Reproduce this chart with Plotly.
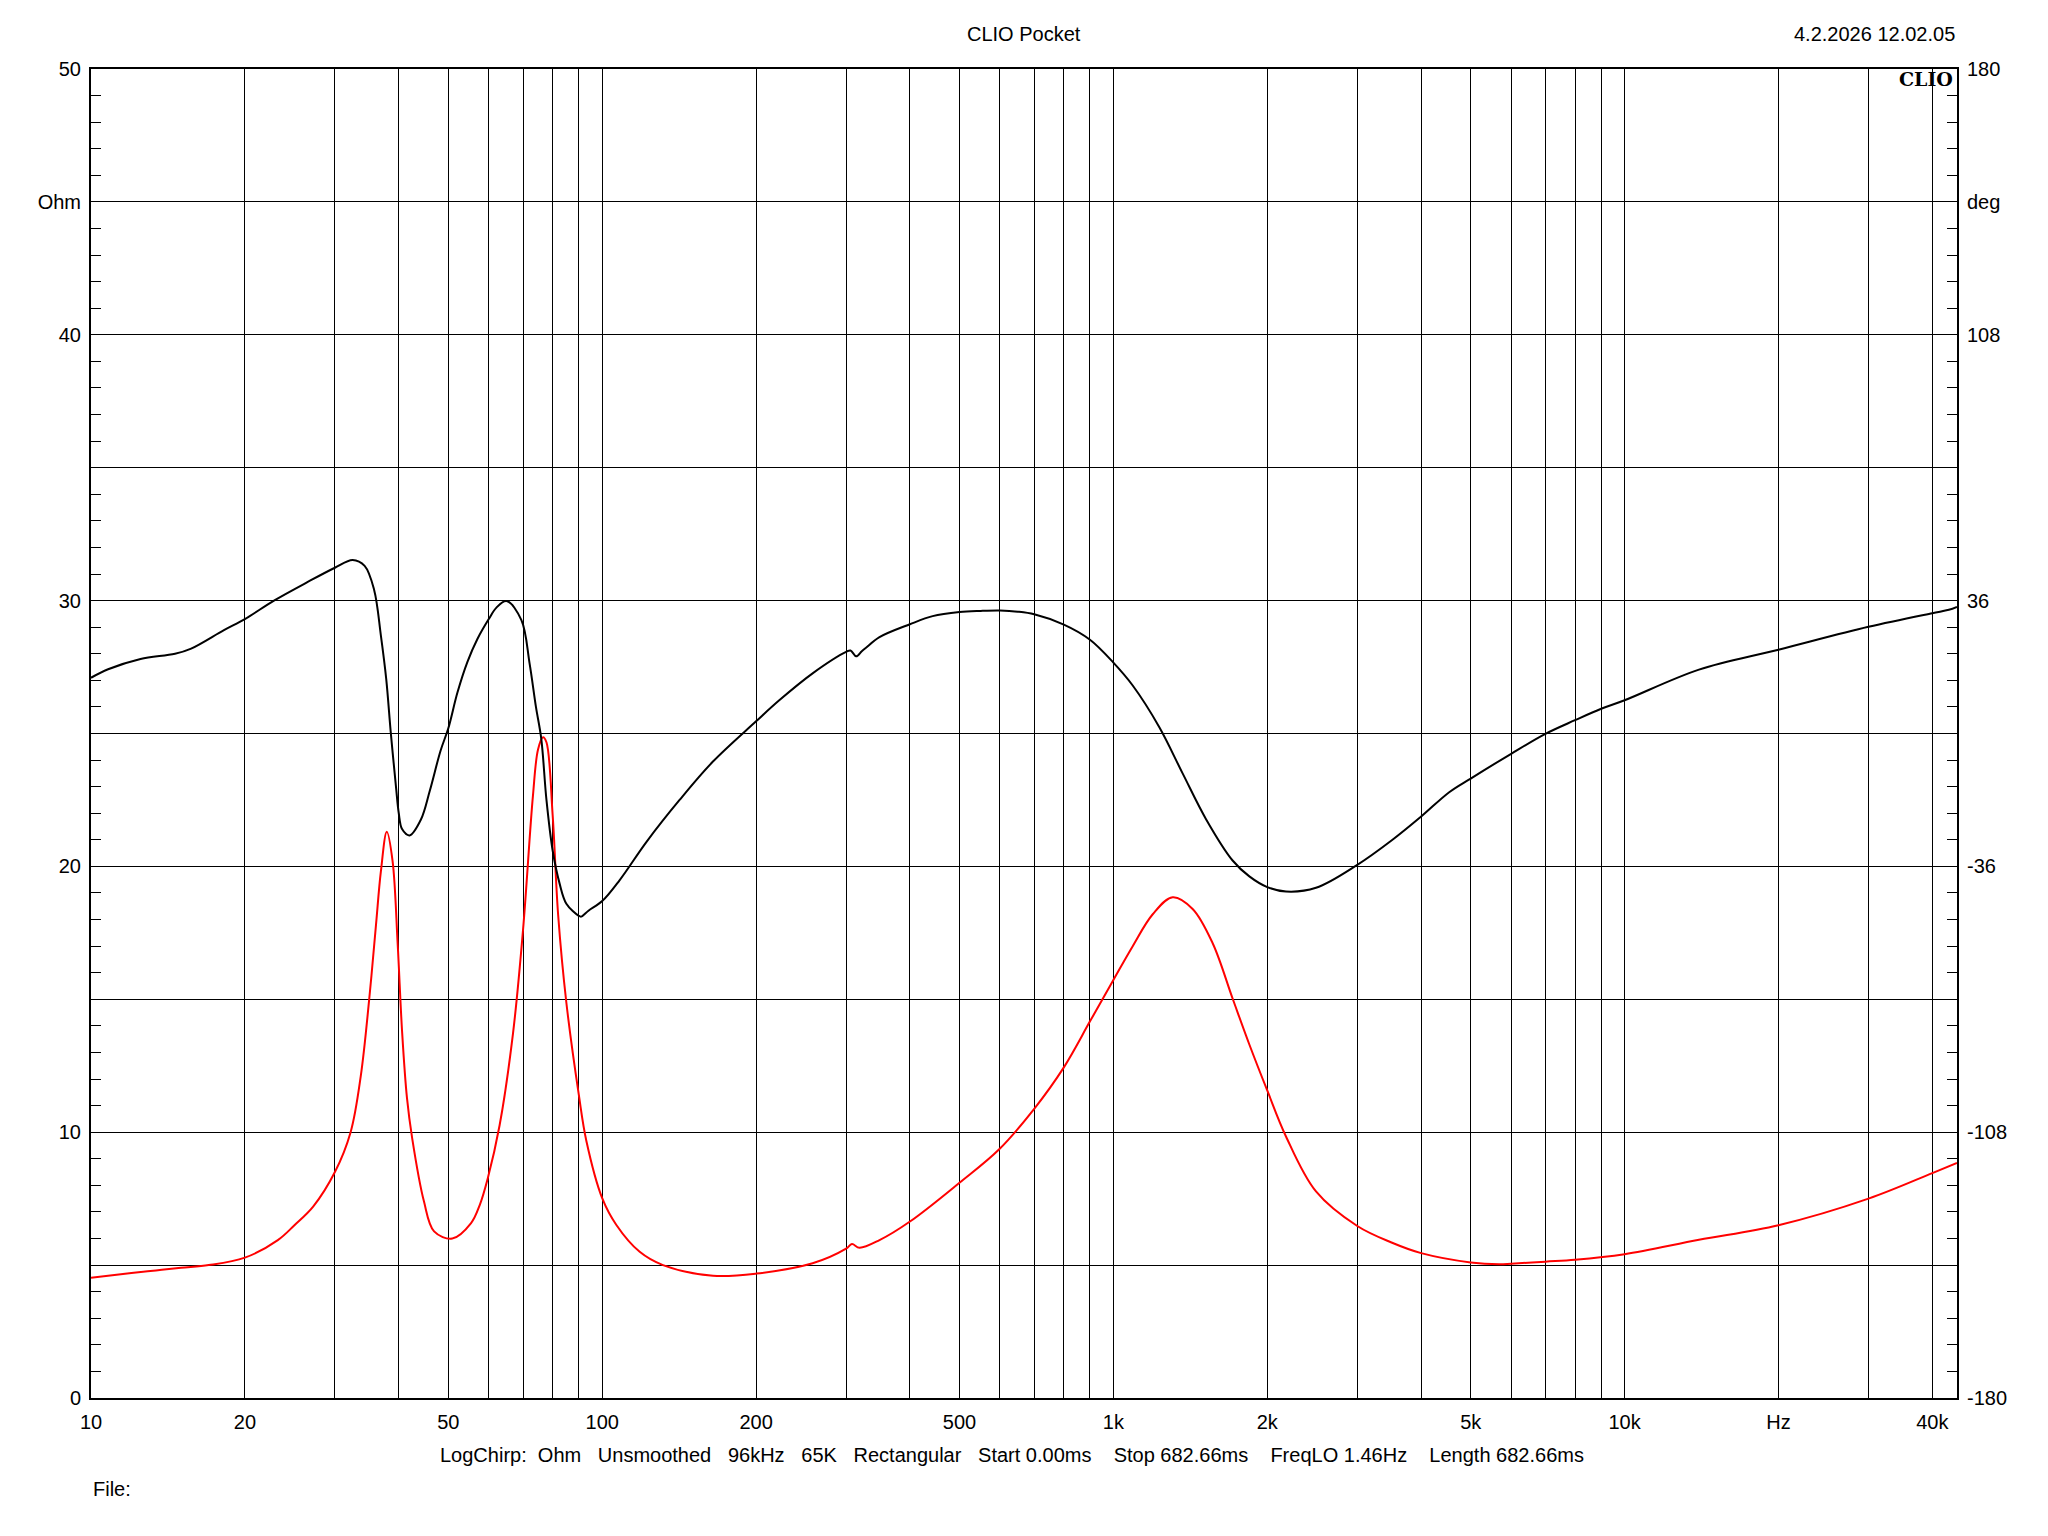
import math
import plotly.graph_objects as go

# ---------------- data ----------------
# Phase (black, right axis, degrees)
phase_freq = [10, 10.8, 12.5, 14.6, 15.7, 18.2, 20, 22.8, 26.5, 30, 32.5, 34.3, 35.8, 36.9,
              37.8, 38.6, 39.5, 40, 40.6, 42.0, 44.2, 46.0, 48.3, 50, 52.1, 54.5, 57.0, 60,
              62.1, 65.0, 69.5, 72.1, 74.2, 76.0, 77.8, 80, 82.6, 85.1, 90, 91, 94, 100,
              108.2, 122, 141.7, 164.7, 200, 222, 258, 300, 306, 314, 322, 328.6, 348.7,
              400, 443, 500, 550, 600, 650, 700, 800, 900, 1000, 1091, 1230, 1366, 1518,
              1711, 1845, 2000, 2176, 2491, 3000, 3500, 4000, 4539, 5000, 6000, 7000, 8000, 9000,
              10000, 13980, 20000, 30000, 40000, 43090, 44700]
phase_deg = [15.1, 17.4, 20.2, 21.6, 23.0, 28.0, 31.0, 36.0, 41.0, 44.9, 47.0, 45.4, 38.9, 26.6,
             14.8, 0.0, -14.4, -21.6, -25.9, -27.6, -23.3, -15.5, -4.6, 1.4, 11.1, 19.4, 25.6, 31.0,
             34.1, 35.9, 30.7, 19.0, 7.2, -1.4, -18.0, -31.7, -40.8, -46.1, -49.4, -49.6, -48.0, -45.4,
             -39.7, -29.4, -18.0, -7.6, 3.3, 9.0, 16.3, 22.1, 22.5, 20.9, 22.3, 23.3, 26.1,
             29.6, 31.8, 32.9, 33.2, 33.3, 33.0, 32.3, 29.5, 25.4, 19.2, 13.0, 1.7, -10.8, -23.2,
             -34.4, -38.7, -41.6, -42.8, -41.8, -35.6, -29.0, -22.5, -15.9, -12.2, -5.5, -0.1, 3.6, 6.7,
             9.0, 17.3, 22.7, 28.9, 32.6, 33.5, 34.3]

# Impedance magnitude (red, left axis, Ohm)
imp_freq = [10, 12, 13.4, 15, 17, 20, 23.2, 25, 27.2, 30, 32.2, 33.7, 35.0, 36.1, 36.9, 37.9,
            38.9, 39.8, 40.6, 41.5, 42.5, 44.8, 46.9, 50.9, 55.4, 57.6, 59.7, 63.0, 66.9, 70,
            73.2, 74.9, 76.6, 77.8, 80, 82, 85.1, 90, 93.1, 100, 106.6, 118.4, 131.5, 164.7,
            200, 258, 300, 308, 318.7, 348.7, 400, 500, 598, 700, 800, 900, 1000, 1091, 1194,
            1306, 1429, 1564, 1711, 1845, 2000, 2176, 2491, 3000, 3500, 4000, 5000, 5683, 6000, 7000,
            8000, 10000, 13980, 20000, 30000, 40000, 44700]
imp_ohm = [4.52, 4.7, 4.8, 4.9, 5.0, 5.28, 5.94, 6.5, 7.2, 8.5, 10.0, 12.1, 14.97, 17.8, 19.8, 21.3,
           20.2, 17.1, 13.8, 11.3, 9.76, 7.4, 6.27, 6.0, 6.58, 7.26, 8.25, 10.26, 13.7, 17.6,
           22.65, 24.4, 24.86, 24.67, 21.93, 18.18, 14.87, 11.41, 9.68, 7.52, 6.51, 5.5, 5.0, 4.6,
           4.68, 5.07, 5.62, 5.79, 5.65, 5.94, 6.64, 8.1, 9.36, 10.88, 12.44, 14.17, 15.73, 17.0, 18.2,
           18.84, 18.4, 17.11, 15.03, 13.3, 11.57, 9.84, 7.77, 6.47, 5.85, 5.45, 5.10, 5.03, 5.05, 5.13,
           5.2, 5.41, 5.95, 6.5, 7.5, 8.46, 8.84]

# Axis ticks
x_grid = [m * d for d in (10, 100, 1000, 10000) for m in range(1, 10)] + [20000, 30000, 40000]
x_grid = sorted(set(v for v in x_grid if v <= 40000))
x_labels = {10: "10", 20: "20", 50: "50", 100: "100", 200: "200", 500: "500",
            1000: "1k", 2000: "2k", 5000: "5k", 10000: "10k", 20000: "Hz", 40000: "40k"}
ohm_ticks = [0, 5, 10, 15, 20, 25, 30, 35, 40, 45, 50]
ohm_text = ["0", "", "10", "", "20", "", "30", "", "40", "Ohm", "50"]
deg_ticks = [-180, -144, -108, -72, -36, 0, 36, 72, 108, 144, 180]
deg_text = ["-180", "", "-108", "", "-36", "", "36", "", "108", "deg", "180"]

title_text = "CLIO Pocket"
date_text = "4.2.2026 12.02.05"
info_text = ("LogChirp:  Ohm   Unsmoothed   96kHz   65K   Rectangular   Start 0.00ms    "
             "Stop 682.66ms    FreqLO 1.46Hz    Length 682.66ms")
file_text = "File:"

# ---------------- figure ----------------
W, H = 2048, 1536
L, R, T, B = 91, 1957, 69, 1398
FONT = "Liberation Sans, Arial, sans-serif"
FS = 20

fig = go.Figure()
fig.add_trace(go.Scatter(x=phase_freq, y=phase_deg, yaxis="y2", mode="lines",
                         line=dict(color="black", width=2, shape="spline", smoothing=1.0),
                         showlegend=False, hoverinfo="skip"))
fig.add_trace(go.Scatter(x=imp_freq, y=imp_ohm, yaxis="y", mode="lines",
                         line=dict(color="#ff0000", width=2, shape="spline", smoothing=1.0),
                         showlegend=False, hoverinfo="skip"))


def px(xpix):
    return (xpix - L) / (R - L)


def py(ypix):
    return (B - ypix) / (B - T)


fig.update_layout(
    width=W, height=H,
    margin=dict(l=L, r=W - R, t=T, b=H - B, pad=0),
    paper_bgcolor="white", plot_bgcolor="white",
    font=dict(family=FONT, size=FS, color="black"),
    xaxis=dict(type="log", range=[1, math.log10(44700)],
               tickmode="array", tickvals=x_grid,
               ticktext=[x_labels.get(v, "") for v in x_grid],
               showgrid=True, gridcolor="black", gridwidth=1,
               showline=True, linecolor="black", linewidth=2, mirror=True,
               ticks="", ticklabelstandoff=5, zeroline=False,
               tickfont=dict(family=FONT, size=FS, color="black")),
    yaxis=dict(range=[0, 50], tickmode="array", tickvals=ohm_ticks, ticktext=ohm_text,
               showgrid=True, gridcolor="black", gridwidth=1,
               showline=True, linecolor="black", linewidth=2, mirror=True,
               ticks="inside", ticklen=10, tickcolor="black", ticklabelstandoff=4,
               zeroline=False,
               minor=dict(tickmode="linear", tick0=0, dtick=1, ticks="inside",
                          ticklen=10, tickcolor="black", showgrid=False),
               tickfont=dict(family=FONT, size=FS, color="black")),
    yaxis2=dict(range=[-180, 180], overlaying="y", side="right",
                tickmode="array", tickvals=deg_ticks, ticktext=deg_text,
                showgrid=False, showline=True, linecolor="black", linewidth=2,
                ticks="inside", ticklen=10, tickcolor="black", ticklabelstandoff=4,
                zeroline=False,
                minor=dict(tickmode="linear", tick0=-180, dtick=7.2, ticks="inside",
                           ticklen=10, tickcolor="black", showgrid=False),
                tickfont=dict(family=FONT, size=FS, color="black")),
)

ann = [
    dict(text=title_text, x=0.5, y=py(34), xanchor="center", yanchor="middle"),
    dict(text=date_text, x=1.0, y=py(34), xanchor="right", yanchor="middle"),
    dict(text="<b>CLIO</b>", x=px(1955), y=py(79), xanchor="right", yanchor="middle",
         font=dict(family="DejaVu Serif, serif", size=19, color="black")),
    dict(text=info_text.replace(" ", "\u00a0"), x=px(1012), y=py(1455),
         xanchor="center", yanchor="middle"),
    dict(text=file_text, x=0.0, y=py(1489), xanchor="left", yanchor="middle"),
]
for a in ann:
    a.setdefault("font", dict(family=FONT, size=FS, color="black"))
    fig.add_annotation(xref="paper", yref="paper", showarrow=False, **a)

fig.write_html("out.html")
